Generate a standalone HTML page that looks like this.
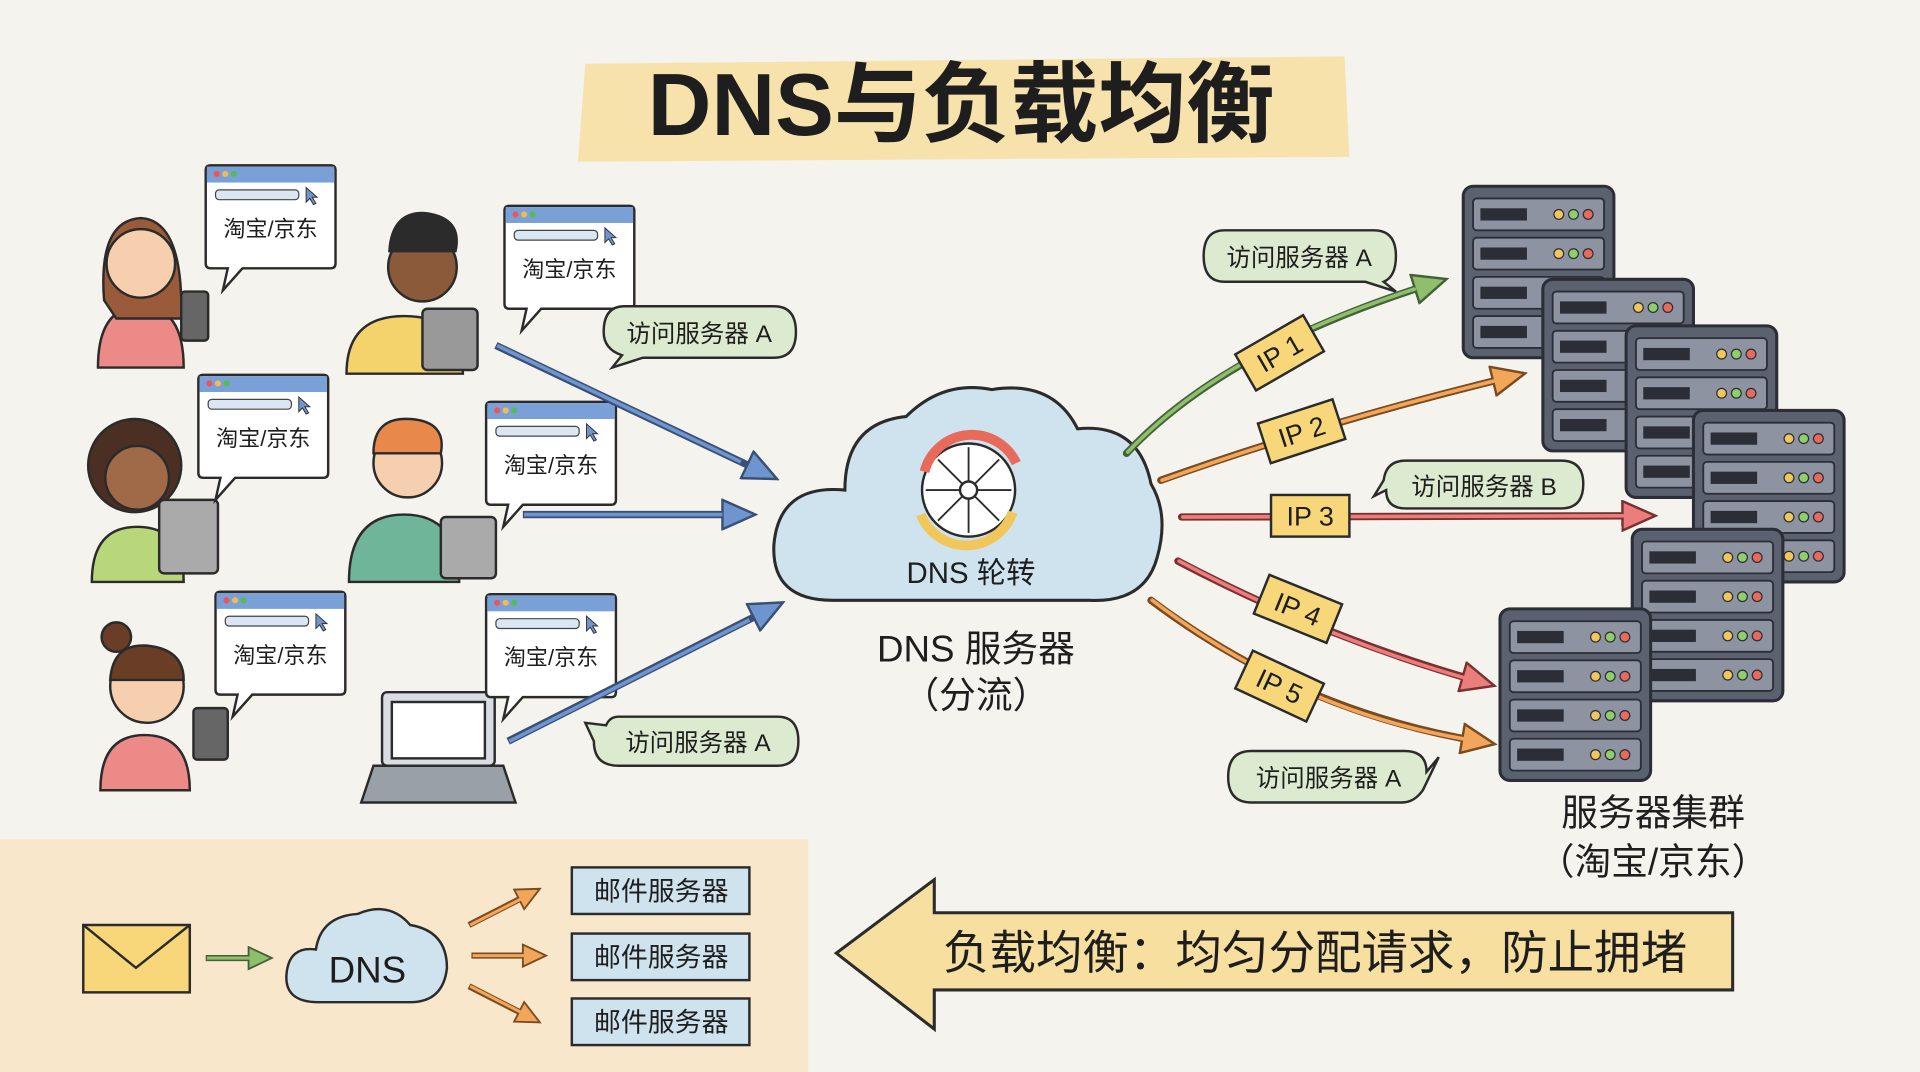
<!DOCTYPE html>
<html><head><meta charset="utf-8">
<style>
html,body{margin:0;padding:0;background:#f5f3ee;}
svg{display:block;}
text{font-family:"Liberation Sans","Noto Sans CJK SC",sans-serif;fill:#1e1e1e;}
</style></head>
<body>
<svg width="1920" height="1072" viewBox="0 0 1568 875" preserveAspectRatio="none" xmlns="http://www.w3.org/2000/svg">
<defs>
<marker id="ab" markerWidth="30" markerHeight="26" refX="14" refY="13" orient="auto" markerUnits="userSpaceOnUse"><path d="M1,1 L28,13 L1,25 Z" fill="#6f95cf" stroke="#3a4f75" stroke-width="2"/></marker>
<marker id="ag" markerWidth="30" markerHeight="26" refX="14" refY="13" orient="auto" markerUnits="userSpaceOnUse"><path d="M1,1 L28,13 L1,25 Z" fill="#8fbf6a" stroke="#44603a" stroke-width="2"/></marker>
<marker id="ao" markerWidth="30" markerHeight="26" refX="14" refY="13" orient="auto" markerUnits="userSpaceOnUse"><path d="M1,1 L28,13 L1,25 Z" fill="#f2a65a" stroke="#7a4a20" stroke-width="2"/></marker>
<marker id="ar" markerWidth="30" markerHeight="26" refX="14" refY="13" orient="auto" markerUnits="userSpaceOnUse"><path d="M1,1 L28,13 L1,25 Z" fill="#ec7d7d" stroke="#7a3030" stroke-width="2"/></marker>
<marker id="aos" markerWidth="22" markerHeight="20" refX="10" refY="10" orient="auto" markerUnits="userSpaceOnUse"><path d="M1,1 L20,10 L1,19 Z" fill="#f2a65a" stroke="#7a4a20" stroke-width="1.5"/></marker>
<marker id="ags" markerWidth="22" markerHeight="20" refX="10" refY="10" orient="auto" markerUnits="userSpaceOnUse"><path d="M1,1 L20,10 L1,19 Z" fill="#8fbf6a" stroke="#44603a" stroke-width="1.5"/></marker>
<g id="rack">
<rect x="0" y="0" width="123" height="140" rx="8" fill="#5c6170" stroke="#2b2e36" stroke-width="2.5"/>
<g fill="#8d93a0" stroke="#2b2e36" stroke-width="1.5">
<rect x="8" y="10" width="107" height="26" rx="3"/><rect x="8" y="42" width="107" height="26" rx="3"/><rect x="8" y="74" width="107" height="26" rx="3"/><rect x="8" y="106" width="107" height="26" rx="3"/>
</g>
<g fill="#2b2e36"><rect x="14" y="18" width="38" height="10"/><rect x="14" y="50" width="38" height="10"/><rect x="14" y="82" width="38" height="10"/><rect x="14" y="114" width="38" height="10"/></g>
<g stroke="#2b2e36" stroke-width="1">
<circle cx="78" cy="23" r="4" fill="#f1c65a"/><circle cx="90" cy="23" r="4" fill="#8fcf6a"/><circle cx="102" cy="23" r="4" fill="#e76a5a"/>
<circle cx="78" cy="55" r="4" fill="#f1c65a"/><circle cx="90" cy="55" r="4" fill="#8fcf6a"/><circle cx="102" cy="55" r="4" fill="#e76a5a"/>
<circle cx="78" cy="87" r="4" fill="#f1c65a"/><circle cx="90" cy="87" r="4" fill="#8fcf6a"/><circle cx="102" cy="87" r="4" fill="#e76a5a"/>
<circle cx="78" cy="119" r="4" fill="#f1c65a"/><circle cx="90" cy="119" r="4" fill="#8fcf6a"/><circle cx="102" cy="119" r="4" fill="#e76a5a"/>
</g>
</g>
<g id="bub">
<path d="M0,4 Q0,0 4,0 L102,0 Q106,0 106,4 L106,80 Q106,84 102,84 L30,84 L14,102 L18,84 L4,84 Q0,84 0,80 Z" fill="#fff" stroke="#2b2b2b" stroke-width="2"/>
<rect x="1" y="1" width="104" height="13" fill="#7aa0d8"/>
<circle cx="9" cy="7" r="2.5" fill="#e55"/><circle cx="16" cy="7" r="2.5" fill="#eb5"/><circle cx="23" cy="7" r="2.5" fill="#5b5"/>
<rect x="8" y="20" width="68" height="8" rx="3" fill="#dbe6f5" stroke="#444" stroke-width="1"/>
<path d="M82,18 l0,12 l3,-3 l3,5 l2,-1 l-3,-5 l4,0 z" fill="#6f95cf" stroke="#333" stroke-width="0.8"/>
<text x="53" y="58" font-size="18" text-anchor="middle">淘宝/京东</text>
</g>
</defs>

<rect width="1568" height="875" fill="#f5f3ee"/>
<!-- title -->
<path d="M478,52 L1098,46 L1102,128 L472,132 Z" fill="#f7e2ac"/>
<text x="785" y="110" font-size="72" font-weight="bold" text-anchor="middle">DNS与负载均衡</text>

<!-- people -->
<g stroke="#2b2b2b" stroke-width="2">
<path d="M80,300 Q80,250 115,250 Q150,250 150,300 Z" fill="#ec8a88"/>
<path d="M85,245 Q80,180 115,178 Q150,180 148,260 L135,260 L95,260 Z" fill="#9a5b3a"/>
<circle cx="115" cy="215" r="28" fill="#f6cfae"/>
<rect x="148" y="238" width="22" height="40" rx="3" fill="#666"/>

<path d="M283,305 Q283,258 330,258 Q378,258 378,305 Z" fill="#f4d36c"/>
<circle cx="345" cy="218" r="28" fill="#8a5a3a"/>
<path d="M318,205 Q320,172 348,174 Q378,178 372,205 Z" fill="#2b2b2b"/>
<rect x="345" y="252" width="45" height="50" rx="4" fill="#999"/>

<path d="M75,475 Q75,430 112,430 Q150,430 150,475 Z" fill="#b8d67a"/>
<circle cx="110" cy="380" r="38" fill="#4a2f22"/>
<circle cx="112" cy="390" r="26" fill="#a06a48"/>
<rect x="130" y="408" width="48" height="60" rx="4" fill="#aaa"/>

<path d="M285,475 Q285,420 330,420 Q375,420 375,475 Z" fill="#6fb59a"/>
<circle cx="333" cy="378" r="28" fill="#f6cfae"/>
<path d="M305,370 Q305,340 335,342 Q365,344 360,370 Z" fill="#e8884a"/>
<rect x="360" y="422" width="45" height="50" rx="4" fill="#aaa"/>

<path d="M82,645 Q82,600 118,600 Q155,600 155,645 Z" fill="#ec8a88"/>
<circle cx="95" cy="520" r="12" fill="#6a3d26"/>
<circle cx="120" cy="560" r="30" fill="#f6cfae"/>
<path d="M90,555 Q92,525 120,527 Q150,530 150,555 Z" fill="#6a3d26"/>
<rect x="158" y="578" width="28" height="42" rx="3" fill="#666"/>

<rect x="312" y="565" width="92" height="60" rx="4" fill="#d9dde3"/>
<rect x="320" y="573" width="76" height="46" fill="#fff"/>
<path d="M295,655 L305,625 L411,625 L421,655 Z" fill="#9aa0a8"/>
</g>
<use href="#bub" x="168" y="135"/>
<use href="#bub" x="162" y="306"/>
<use href="#bub" x="176" y="483"/>
<use href="#bub" x="412" y="168"/>
<use href="#bub" x="397" y="328"/>
<use href="#bub" x="397" y="485"/>

<!-- blue arrows -->
<g stroke="#3a4f75" stroke-width="6" fill="none">
<path d="M405,282 L622,385" marker-end="url(#ab)"/>
<path d="M427,420 L603,420" marker-end="url(#ab)"/>
<path d="M415,605 L627,498" marker-end="url(#ab)"/>
</g>
<g stroke="#6f95cf" stroke-width="3" fill="none">
<path d="M406,282 L605,377"/><path d="M428,420 L590,420"/><path d="M416,605 L612,506"/>
</g>

<!-- green label bubbles -->
<g fill="#dcebd0" stroke="#2b2b2b" stroke-width="2">
<path d="M510,250 L632,250 Q650,250 650,271 Q650,292 632,292 L525,292 L500,300 L508,290 Q493,285 493,271 Q493,250 510,250 Z"/>
<path d="M505,585 L635,585 Q652,585 652,605 Q652,625 635,625 L505,625 Q485,625 485,605 L478,590 L495,592 Q498,585 505,585 Z"/>
<path d="M1000,188 L1122,188 Q1140,188 1140,209 Q1140,226 1130,230 L1140,238 L1115,230 L1000,230 Q983,230 983,209 Q983,188 1000,188 Z"/>
<path d="M1148,376 L1275,376 Q1293,376 1293,395 Q1293,415 1275,415 L1148,415 Q1132,415 1132,400 L1122,405 L1130,392 Q1132,376 1148,376 Z"/>
<path d="M1022,613 L1147,613 Q1165,613 1165,630 L1175,618 L1162,645 Q1155,655 1145,655 L1022,655 Q1003,655 1003,634 Q1003,613 1022,613 Z"/>
</g>
<g font-size="20">
<text x="571" y="279" text-anchor="middle">访问服务器 A</text>
<text x="570" y="613" text-anchor="middle">访问服务器 A</text>
<text x="1061" y="217" text-anchor="middle">访问服务器 A</text>
<text x="1212" y="404" text-anchor="middle">访问服务器 B</text>
<text x="1085" y="642" text-anchor="middle">访问服务器 A</text>
</g>

<!-- cloud -->
<path d="M680,490 Q630,490 632,445 Q636,395 690,400 Q690,345 740,340 Q770,310 810,318 Q860,310 880,350 Q930,345 940,395 Q955,420 945,455 Q935,492 890,490 Z" fill="#cfe3ef" stroke="#2b2b2b" stroke-width="2.5"/>
<circle cx="791" cy="400" r="38" fill="#fff" stroke="#2b2b2b" stroke-width="2"/>
<path d="M755,385 A40,40 0 0 1 830,378" fill="none" stroke="#e76a5a" stroke-width="8"/>
<path d="M827,418 A40,40 0 0 1 752,420" fill="none" stroke="#f1c65a" stroke-width="8"/>
<g stroke="#2b2b2b" stroke-width="1.5"><line x1="791" y1="365" x2="791" y2="435"/><line x1="756" y1="400" x2="826" y2="400"/><line x1="766" y1="375" x2="816" y2="425"/><line x1="816" y1="375" x2="766" y2="425"/></g>
<circle cx="791" cy="400" r="7" fill="#fff" stroke="#2b2b2b" stroke-width="2"/>
<text x="793" y="476" font-size="24" text-anchor="middle">DNS 轮转</text>
<text x="797" y="540" font-size="30" text-anchor="middle">DNS 服务器</text>
<text x="797" y="578" font-size="30" text-anchor="middle">（分流）</text>

<!-- right arrows -->
<g fill="none" stroke-linecap="round">
<path d="M920,370 Q1000,285 1168,232" stroke="#44603a" stroke-width="6" marker-end="url(#ag)"/>
<path d="M921,369 Q1000,286 1155,236" stroke="#8fbf6a" stroke-width="3"/>
<path d="M948,392 Q1080,345 1232,308" stroke="#7a4a20" stroke-width="6" marker-end="url(#ao)"/>
<path d="M949,392 Q1080,345 1220,311" stroke="#f2a65a" stroke-width="3"/>
<path d="M965,422 L1338,421" stroke="#7a3030" stroke-width="6" marker-end="url(#ar)"/>
<path d="M966,422 L1325,421" stroke="#ec7d7d" stroke-width="3"/>
<path d="M962,458 Q1080,520 1207,556" stroke="#7a3030" stroke-width="6" marker-end="url(#ar)"/>
<path d="M963,458 Q1080,520 1195,553" stroke="#ec7d7d" stroke-width="3"/>
<path d="M940,490 Q1060,580 1207,605" stroke="#7a4a20" stroke-width="6" marker-end="url(#ao)"/>
<path d="M941,490 Q1060,580 1195,603" stroke="#f2a65a" stroke-width="3"/>
</g>
<g font-size="22" stroke="none">
<g transform="translate(1045,288) rotate(-30)"><rect x="-32" y="-17" width="64" height="34" fill="#f7d77a" stroke="#2b2b2b" stroke-width="2"/><text x="0" y="8" text-anchor="middle">IP 1</text></g>
<g transform="translate(1063,352) rotate(-18)"><rect x="-32" y="-17" width="64" height="34" fill="#f7d77a" stroke="#2b2b2b" stroke-width="2"/><text x="0" y="8" text-anchor="middle">IP 2</text></g>
<g transform="translate(1070,421)"><rect x="-32" y="-17" width="64" height="34" fill="#f7d77a" stroke="#2b2b2b" stroke-width="2"/><text x="0" y="8" text-anchor="middle">IP 3</text></g>
<g transform="translate(1060,497) rotate(22)"><rect x="-32" y="-17" width="64" height="34" fill="#f7d77a" stroke="#2b2b2b" stroke-width="2"/><text x="0" y="8" text-anchor="middle">IP 4</text></g>
<g transform="translate(1045,560) rotate(25)"><rect x="-32" y="-17" width="64" height="34" fill="#f7d77a" stroke="#2b2b2b" stroke-width="2"/><text x="0" y="8" text-anchor="middle">IP 5</text></g>
</g>

<!-- servers -->
<use href="#rack" x="1195" y="152"/>
<use href="#rack" x="1260" y="228"/>
<use href="#rack" x="1328" y="266"/>
<use href="#rack" x="1383" y="335"/>
<use href="#rack" x="1333" y="432"/>
<use href="#rack" x="1225" y="497"/>
<text x="1350" y="674" font-size="30" text-anchor="middle">服务器集群</text>
<text x="1350" y="714" font-size="30" text-anchor="middle">（淘宝/京东）</text>

<!-- bottom-left panel -->
<rect x="0" y="685" width="660" height="190" fill="#f9e7cc"/>
<rect x="68" y="755" width="87" height="55" fill="#f7d77a" stroke="#2b2b2b" stroke-width="2"/>
<path d="M68,755 L111,790 L155,755" fill="none" stroke="#2b2b2b" stroke-width="2"/>
<path d="M168,782 L212,782" stroke="#44603a" stroke-width="5" marker-end="url(#ags)"/>
<path d="M169,782 L205,782" stroke="#8fbf6a" stroke-width="2.5"/>
<path d="M260,818 Q232,818 234,795 Q236,772 258,775 Q262,748 292,746 Q318,735 335,755 Q365,760 365,790 Q362,818 335,818 Z" fill="#cfe3ef" stroke="#2b2b2b" stroke-width="2"/>
<text x="300" y="802" font-size="30" text-anchor="middle">DNS</text>
<g stroke="#7a4a20" stroke-width="5"><path d="M383,755 L432,730" marker-end="url(#aos)"/><path d="M385,780 L436,780" marker-end="url(#aos)"/><path d="M383,805 L432,830" marker-end="url(#aos)"/></g>
<g stroke="#f2a65a" stroke-width="2.5"><path d="M384,755 L425,734"/><path d="M386,780 L428,780"/><path d="M384,805 L425,826"/></g>
<g fill="#cfe3ef" stroke="#2b2b2b" stroke-width="2">
<rect x="467" y="708" width="145" height="38"/><rect x="467" y="762" width="145" height="38"/><rect x="467" y="815" width="145" height="38"/>
</g>
<g font-size="22" text-anchor="middle"><text x="540" y="735">邮件服务器</text><text x="540" y="789">邮件服务器</text><text x="540" y="842">邮件服务器</text></g>

<!-- big arrow -->
<path d="M683,778 L763,718 L763,745 L1415,745 L1415,808 L763,808 L763,840 Z" fill="#f7dfa0" stroke="#2b2b2b" stroke-width="2.5"/>
<text x="770" y="791" font-size="38">负载均衡：均匀分配请求，防止拥堵</text>
</svg>
</body></html>
